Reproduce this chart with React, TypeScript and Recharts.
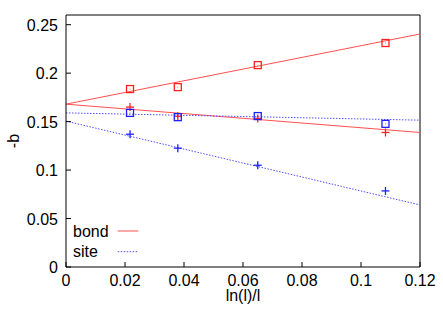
import React from 'react';
import { ComposedChart, XAxis, YAxis, Line, Scatter, ReferenceLine, Legend } from 'recharts';

const xValues = [0.0217, 0.0379, 0.065, 0.1083];
const bondSquare = [0.1836, 0.1856, 0.2083, 0.2311];
const bondPlus = [0.165, 0.1555, 0.1532, 0.1388];
const siteSquare = [0.159, 0.1546, 0.1557, 0.1477];
const sitePlus = [0.137, 0.1226, 0.105, 0.0785];
const fitX = [0, 0.12];
const bondSquareFit = [0.168, 0.2404];
const bondPlusFit = [0.168, 0.1388];
const siteSquareFit = [0.159, 0.1515];
const sitePlusFit = [0.1505, 0.064];
const xTicks = [0, 0.02, 0.04, 0.06, 0.08, 0.1, 0.12];
const xTickLabels = ['0', '0.02', '0.04', '0.06', '0.08', '0.1', '0.12'];
const yTicks = [0, 0.05, 0.1, 0.15, 0.2, 0.25];
const yTickLabels = ['0', '0.05', '0.1', '0.15', '0.2', '0.25'];
const legendLabels = ['bond', 'site'];

const zip = (xs: number[], ys: number[]) => xs.map((x, i) => ({ x, y: ys[i] }));

const FONT = '"Liberation Sans", Arial, Helvetica, sans-serif';
const RED = '#ff2020';
const BLUE = '#2020ff';
const RED_LINE = '#ff5050';
const BLUE_LINE = '#5050ff';

const XTick = (props: any) => {
  const { x, y, payload } = props;
  const i = xTicks.indexOf(payload.value);
  return (
    <g>
      <line x1={x} x2={x} y1={y} y2={y - 5} stroke="#000" strokeWidth={1} />
      <text x={x} y={y + 18.5} textAnchor="middle" fontSize={16} fontFamily={FONT} fill="#000">
        {xTickLabels[i]}
      </text>
    </g>
  );
};

const YTick = (props: any) => {
  const { x, y, payload } = props;
  const i = yTicks.indexOf(payload.value);
  return (
    <g>
      <line x1={x} x2={x + 5} y1={y} y2={y} stroke="#000" strokeWidth={1} />
      <text x={x - 8} y={y + 6} textAnchor="end" fontSize={16} fontFamily={FONT} fill="#000">
        {yTickLabels[i]}
      </text>
    </g>
  );
};

const makeSquare = (color: string) => (props: any) => {
  const { cx, cy } = props;
  return (
    <g>
      <rect x={cx - 3.5} y={cy - 3.5} width={7} height={7} fill="none" stroke={color} strokeWidth={1.3} />
      <rect x={cx - 0.5} y={cy - 0.5} width={1} height={1} fill={color} opacity={0.6} />
    </g>
  );
};

const makePlus = (color: string) => (props: any) => {
  const { cx, cy } = props;
  return (
    <g stroke={color} strokeWidth={1.3}>
      <line x1={cx - 4} x2={cx + 4} y1={cy} y2={cy} />
      <line x1={cx} x2={cx} y1={cy - 4} y2={cy + 4} />
    </g>
  );
};

const LegendContent = () => (
  <svg width={80} height={44}>
    <text x={0} y={16.7} fontSize={16} fontFamily={FONT} fill="#000">{legendLabels[0]}</text>
    <line x1={44.7} x2={65.3} y1={11} y2={11} stroke={RED_LINE} strokeWidth={1} />
    <text x={0} y={36.7} fontSize={16} fontFamily={FONT} fill="#000">{legendLabels[1]}</text>
    <line x1={44.7} x2={65.3} y1={31.7} y2={31.7} stroke={BLUE_LINE} strokeWidth={1} strokeDasharray="1.5 1.5" />
  </svg>
);

export default function App() {
  return (
    <div style={{ position: 'absolute', left: 0, top: 0, background: '#fff' }}>
      <ComposedChart width={443} height={317} margin={{ top: 15, right: 23, bottom: 0, left: 0 }}>
        <XAxis
          type="number"
          dataKey="x"
          domain={[0, 0.12]}
          ticks={xTicks}
          height={50}
          tickSize={0}
          tickMargin={0}
          tickLine={false}
          axisLine={{ stroke: '#000', strokeWidth: 1 }}
          tick={XTick}
          allowDataOverflow
          label={{
            content: (p: any) => {
              const vb = p.viewBox;
              return (
                <text x={vb.x + vb.width / 2} y={vb.y + 34} textAnchor="middle" fontSize={16} fontFamily={FONT} fill="#000">
                  ln(l)/l
                </text>
              );
            },
          }}
        />
        <YAxis
          type="number"
          dataKey="y"
          domain={[0, 0.26]}
          ticks={yTicks}
          width={66}
          tickSize={0}
          tickMargin={0}
          tickLine={false}
          axisLine={{ stroke: '#000', strokeWidth: 1 }}
          tick={YTick}
          allowDataOverflow
          label={{
            content: (p: any) => {
              const vb = p.viewBox;
              const cx = 13;
              const cy = vb.y + vb.height / 2;
              return (
                <text x={cx} y={cy} textAnchor="middle" dominantBaseline="central" fontSize={16} fontFamily={FONT} fill="#000" transform={`rotate(-90 ${cx} ${cy})`}>
                  -b
                </text>
              );
            },
          }}
        />
        <ReferenceLine y={0.26} stroke="#808080" strokeWidth={2} ifOverflow="visible" />
        <ReferenceLine x={0.12} stroke="#000" strokeWidth={1} ifOverflow="visible" />
        <Line data={zip(fitX, bondSquareFit)} dataKey="y" type="linear" stroke={RED_LINE} strokeWidth={1} dot={false} activeDot={false} isAnimationActive={false} legendType="none" />
        <Line data={zip(fitX, bondPlusFit)} dataKey="y" type="linear" stroke={RED_LINE} strokeWidth={1} dot={false} activeDot={false} isAnimationActive={false} legendType="none" />
        <Line data={zip(fitX, siteSquareFit)} dataKey="y" type="linear" stroke={BLUE_LINE} strokeWidth={1} strokeDasharray="1.5 1.5" dot={false} activeDot={false} isAnimationActive={false} legendType="none" />
        <Line data={zip(fitX, sitePlusFit)} dataKey="y" type="linear" stroke={BLUE_LINE} strokeWidth={1} strokeDasharray="1.5 1.5" dot={false} activeDot={false} isAnimationActive={false} legendType="none" />
        <Scatter data={zip(xValues, bondSquare)} dataKey="y" shape={makeSquare(RED)} isAnimationActive={false} legendType="none" />
        <Scatter data={zip(xValues, bondPlus)} dataKey="y" shape={makePlus(RED)} isAnimationActive={false} legendType="none" />
        <Scatter data={zip(xValues, siteSquare)} dataKey="y" shape={makeSquare(BLUE)} isAnimationActive={false} legendType="none" />
        <Scatter data={zip(xValues, sitePlus)} dataKey="y" shape={makePlus(BLUE)} isAnimationActive={false} legendType="none" />
        <Legend
          layout="horizontal"
          verticalAlign="middle"
          align="center"
          content={LegendContent}
          wrapperStyle={{ left: 73, top: 220, width: 80, height: 44 }}
        />
      </ComposedChart>
    </div>
  );
}
